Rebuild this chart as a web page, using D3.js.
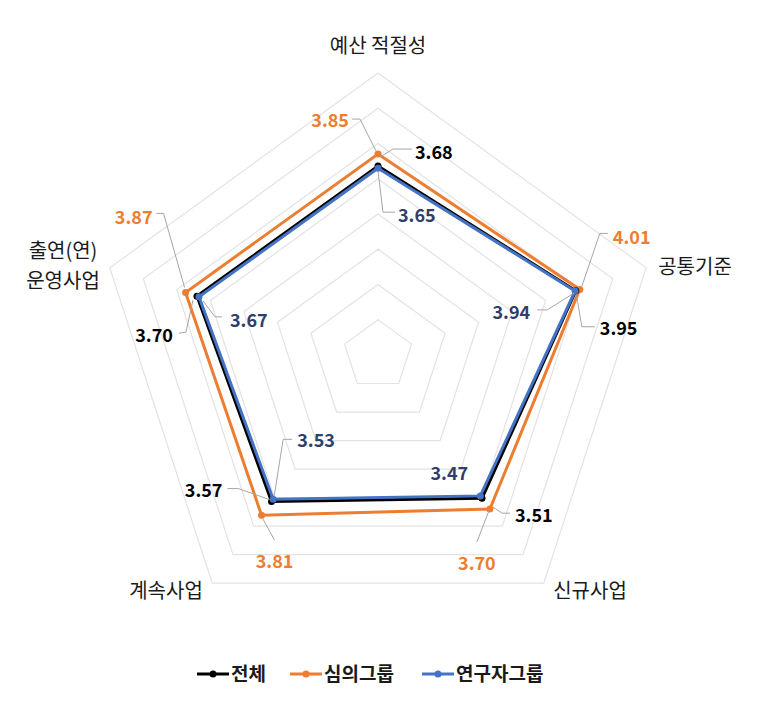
<!DOCTYPE html>
<html><head><meta charset="utf-8">
<script src="https://cdn.jsdelivr.net/npm/d3@7"></script>
<style>
html,body{margin:0;padding:0;background:#fff;}
text{font-family:"Noto Sans CJK KR","Noto Sans",sans-serif;}
</style></head>
<body><svg id="chart" width="778" height="711"></svg>
<script>
// ---- data ----
const categories = ["예산 적절성", "공통기준", "신규사업", "계속사업", "출연(연) 운영사업"];
const seriesNames = ["전체", "심의그룹", "연구자그룹"];
const totalValues = [3.68, 3.95, 3.51, 3.57, 3.70];
const reviewValues = [3.85, 4.01, 3.70, 3.81, 3.87];
const researcherValues = [3.65, 3.94, 3.47, 3.53, 3.67];
const ringTicks = [1.5, 2.0, 2.5, 3.0, 3.5, 4.0, 4.5, 5.0];

// ---- layout / style ----
const cx = 378, cy = 355;
const colors = {"전체": "#000000", "심의그룹": "#ED7D31", "연구자그룹": "#4472C4"};
const labelColors = {"전체": "#000000", "심의그룹": "#ED7D31", "연구자그룹": "#2F3E6B"};
const series = [
  {name: "심의그룹", values: reviewValues},
  {name: "전체", values: totalValues},
  {name: "연구자그룹", values: researcherValues}
];
// label placement relative to point: [dx, dy, anchor, leader points]
const labelLayout = {
  "심의그룹": [
    [-29, -27, "end", [[-26,-35],[-18,-35],[-2,-3]]],
    [33, -45, "start", [[28,-56],[20,-56],[2,-3]]],
    [-13, 61, "middle", [[-1,2],[-13,33]]],
    [13, 53, "middle", [[1,3],[13,25]]],
    [-33, -68, "end", [[-29,-79],[-22,-79],[-1,-5]]]
  ],
  "전체": [
    [37, -7, "start", [[2,-9],[15,-17],[34,-17]]],
    [24, 44, "start", [[1,6],[6,36],[19,36]]],
    [33, 24, "start", [[11,9],[20,15],[28,15]]],
    [-49, -5, "end", [[-44,-13],[-33,-13],[-2,-2]]],
    [-24, 46, "end", [[-18,37],[-11,36],[-4,4]]]
  ],
  "연구자그룹": [
    [20, 54, "start", [[0,3],[5,44],[17,44]]],
    [-45, 28, "end", [[-38,19],[-28,19],[-1,2]]],
    [-31, -16, "middle", null],
    [24, -52, "start", [[1,-3],[10,-60],[19,-60]]],
    [31, 30, "start", [[4,4],[16,20],[23,20]]]
  ]
};

const svg = d3.select("#chart");
const r = d3.scaleLinear().domain([1, 5]).range([0, 282]);
const angle = i => -Math.PI / 2 + i * 2 * Math.PI / categories.length;
const pt = (v, i) => [cx + r(v) * Math.cos(angle(i)), cy + r(v) * Math.sin(angle(i))];

// grid rings
const g = svg.append("g");
ringTicks.forEach(t => {
  const pts = categories.map((c, i) => pt(t, i));
  g.append("path")
    .attr("d", d3.line()(pts) + "Z")
    .attr("fill", "none").attr("stroke", "#e3e3e3").attr("stroke-width", 1.2);
});

// series lines
const line = d3.line().curve(d3.curveLinearClosed);
series.forEach(s => {
  const pts = s.values.map((v, i) => pt(v, i));
  const sg = svg.append("g");
  sg.append("path").attr("d", line(pts))
    .attr("fill", "none").attr("stroke", colors[s.name]).attr("stroke-width", 3)
    .attr("stroke-linejoin", "miter");
  sg.selectAll("circle").data(pts).join("circle")
    .attr("cx", d => d[0]).attr("cy", d => d[1]).attr("r", 3.5)
    .attr("fill", colors[s.name]);
});

// data labels
series.forEach(s => {
  s.values.forEach((v, i) => {
    const [px, py] = pt(v, i);
    const [dx, dy, anchor, leader] = labelLayout[s.name][i];
    if (leader) {
      svg.append("path")
        .attr("d", d3.line()(leader.map(p => [px + p[0], py + p[1]])))
        .attr("fill", "none").attr("stroke", "#a6a6a6").attr("stroke-width", 1);
    }
    svg.append("text")
      .attr("x", px + dx).attr("y", py + dy)
      .attr("text-anchor", anchor)
      .attr("font-size", 18).attr("font-weight", "bold")
      .attr("fill", labelColors[s.name])
      .text(v.toFixed(2));
  });
});

// category labels
const catPos = [
  {x: 378, y: 53, lines: ["예산 적절성"]},
  {x: 695, y: 274, lines: ["공통기준"]},
  {x: 590, y: 598, lines: ["신규사업"]},
  {x: 166, y: 598, lines: ["계속사업"]},
  {x: 63, y: 258, lines: ["출연(연)", "운영사업"]}
];
categories.forEach((c, i) => {
  const p = catPos[i];
  const t = svg.append("text").attr("x", p.x).attr("y", p.y)
    .attr("text-anchor", "middle").attr("font-size", 20).attr("fill", "#1a1a1a");
  p.lines.forEach((l, k) => {
    t.append("tspan").attr("x", p.x).attr("dy", k === 0 ? 0 : 30).text(l);
  });
});

// legend
const legendItems = [
  {name: seriesNames[0], x: 197},
  {name: seriesNames[1], x: 290},
  {name: seriesNames[2], x: 422}
];
const ly = 674;
legendItems.forEach(it => {
  const lg = svg.append("g");
  lg.append("line").attr("x1", it.x).attr("x2", it.x + 32).attr("y1", ly).attr("y2", ly)
    .attr("stroke", colors[it.name]).attr("stroke-width", 3);
  lg.append("circle").attr("cx", it.x + 16).attr("cy", ly).attr("r", 3.5).attr("fill", colors[it.name]);
  lg.append("text").attr("x", it.x + 34).attr("y", ly + 7)
    .attr("font-size", 19).attr("font-weight", "bold").attr("fill", "#1a1a1a").text(it.name);
});
</script>
</body></html>
